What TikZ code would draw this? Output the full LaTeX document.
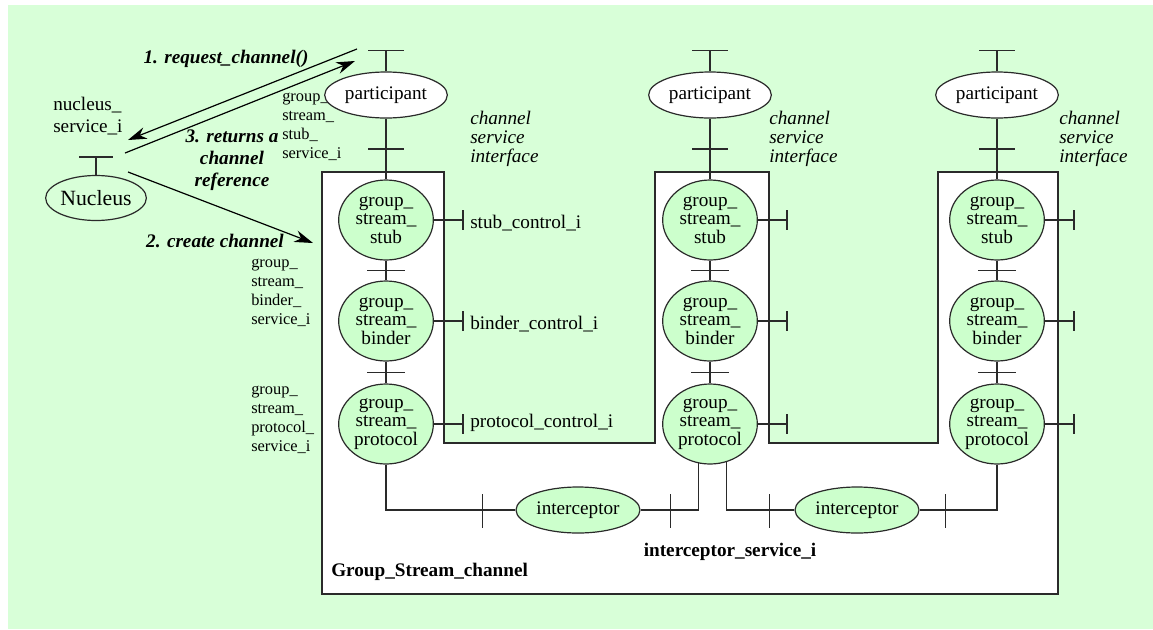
\documentclass[tikz,border=0pt]{standalone}
\usepackage{fontspec}
\setmainfont{Liberation Serif}
\usetikzlibrary{arrows.meta,positioning,calc,shapes.geometric}
\definecolor{bggreen}{HTML}{D8FFD8}
\definecolor{elgreen}{HTML}{CCFFCC}
\definecolor{ink}{HTML}{2A2A2A}

\begin{document}
\begin{tikzpicture}[x=0.75pt,y=-0.75pt,font=\fontsize{14.4}{14}\selectfont,>={Stealth[length=14pt,width=9pt]},
svc/.style={ellipse,draw=ink,line width=0.9pt,fill=white,minimum width=92pt,minimum height=34.5pt,inner sep=0pt},
comp/.style={ellipse,draw=ink,line width=0.9pt,fill=elgreen,minimum width=71pt,minimum height=60pt,inner sep=0pt,align=center},
icp/.style={ellipse,draw=ink,line width=0.9pt,fill=elgreen,minimum width=93pt,minimum height=34.5pt,inner sep=0pt},
wire/.style={draw=ink,line width=0.9pt},
msg/.style={->,draw=black,line width=0.9pt},
svclbl/.style={anchor=west,inner sep=0pt,align=left,font=\fontsize{12.3}{14.3}\selectfont},
itlbl/.style={anchor=west,inner sep=0pt,align=left,font=\fontsize{14.4}{14.3}\selectfont\itshape},
call/.style={inner sep=0pt,align=center,font=\fontsize{14.4}{16.5}\selectfont\bfseries\itshape}]
\useasboundingbox (0,0) rectangle (1153,629);
\fill[bggreen] (8,5) rectangle (1153,629);
% channel outline
\draw[draw=ink,line width=1.2pt,fill=white] (322,172)--(444,172)--(444,443)--(655,443)--(655,172)--(769,172)--(769,443)--(938,443)--(938,172)--(1058,172)--(1058,594)--(322,594)--cycle;
\node[anchor=west,inner sep=0pt,font=\fontsize{14.4}{14}\selectfont\bfseries] (chname) at (331,572) {Group\_Stream\_channel};
\node[inner sep=0pt,font=\fontsize{14.4}{14}\selectfont\bfseries] (icpname) at (730,552) {interceptor\_service\_i};
% service labels
\node[anchor=west,inner sep=0pt,align=left,font=\fontsize{14.4}{16.5}\selectfont] (nsvc) at (53,116) {nucleus\_\\service\_i};
\node[svclbl] (stsvc) at (282,127) {group\_\\stream\_\\stub\_\\service\_i};
\node[svclbl] (bisvc) at (251,293) {group\_\\stream\_\\binder\_\\service\_i};
\node[svclbl] (prsvc) at (251,420) {group\_\\stream\_\\protocol\_\\service\_i};
\node[itlbl] (csi1) at (470,139) {channel\\service\\interface};
\node[itlbl] (csi2) at (769,139) {channel\\service\\interface};
\node[itlbl] (csi3) at (1059,139) {channel\\service\\interface};
\node[anchor=west,inner sep=0pt] (stctl) at (470,223) {stub\_control\_i};
\node[anchor=west,inner sep=0pt] (bictl) at (470,324) {binder\_control\_i};
\node[anchor=west,inner sep=0pt] (prctl) at (470,423) {protocol\_control\_i};
% columns
\foreach \c/\x in {1/386,2/710,3/997}{
  \node[svc] (pa\c) at (\x,95) {participant};
  \node[comp] (st\c) at (\x,220) {group\_\\stream\_\\stub};
  \node[comp] (bi\c) at (\x,321) {group\_\\stream\_\\binder};
  \node[comp] (pr\c) at (\x,424) {group\_\\stream\_\\protocol};
  \draw[wire] (pa\c.north)--++(0,-21) ++(-18,0)--++(36,0);
  \draw[wire] (pa\c)--coordinate(ka\c)(st\c) (ka\c) ++(-18,0)--++(36,0);
  \draw[wire] (st\c)--coordinate(kb\c)(bi\c) (kb\c) ++(-19,0)--++(38,0);
  \draw[wire] (bi\c)--coordinate(kc\c)(pr\c) (kc\c) ++(-19,0)--++(38,0);
  \foreach \n in {st,bi,pr}
    \draw[wire] (\n\c.east)--++(29,0) ++(0,-10)--++(0,20);
}
% interceptors
\node[icp] (ic1) at (578,510) {interceptor};
\node[icp] (ic2) at (857,510) {interceptor};
\draw[wire] (pr1.south)|-(ic1.west) (ic1.west) ++(-33,-16)--++(0,34);
\draw[wire] (pr2.-106)|-(ic1.east) (ic1.east) ++(30,-16)--++(0,34);
\draw[wire] (pr2.-67)|-(ic2.west) (ic2.west) ++(-25,-16)--++(0,34);
\draw[wire] (pr3.south)|-(ic2.east) (ic2.east) ++(26,-16)--++(0,34);
% nucleus and the calls
\node[svc,fill=none,minimum width=72pt,minimum height=33.75pt,font=\fontsize{16.3}{16}\selectfont] (nuc) at (96,198) {Nucleus};
\draw[wire] (nuc.north)--++(0,-18) ++(-17,0)--++(34,0);
\coordinate (q1) at (357,49);
\coordinate (q2) at (128,140);
\coordinate (q3) at (125,153);
\coordinate (q4) at (355,61);
\coordinate (q5) at (128,172);
\coordinate (q6) at (313,243);
\draw[msg] (q1)--(q2);
\draw[msg] (q3)--(q4);
\draw[msg] (q5)--(q6);
\node[call] (m1) at (226,59) {1. request\_channel()};
\node[call] (m3) at (232,160) {3. returns a\\channel\\reference};
\node[call] (m2) at (215,241) {2. create channel};
\end{tikzpicture}
\end{document}
